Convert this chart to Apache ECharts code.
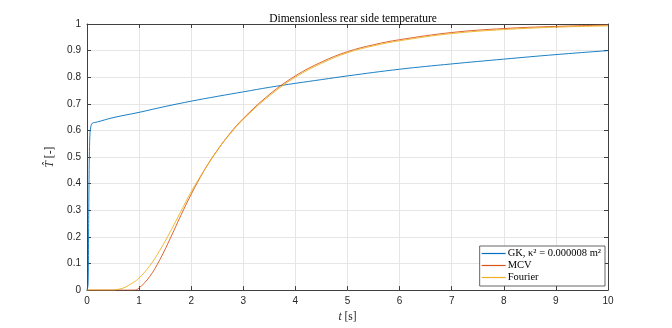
<!DOCTYPE html>
<html>
<head>
<meta charset="utf-8">
<script src="https://cdn.jsdelivr.net/npm/echarts@6/dist/echarts.min.js"></script>
<style>
  html, body { margin: 0; padding: 0; background: #fff; }
  #chart { width: 672px; height: 328px; }
</style>
</head>
<body>
<div id="chart"></div>
<script>
// values
const gkTime = [0, 0.02, 0.03, 0.035, 0.045, 0.055, 0.065, 0.08, 0.1, 0.2, 0.5, 1, 1.5, 2, 2.5, 3, 3.5, 4, 4.5, 5, 6, 7, 8, 9, 10]
const gkValues = [0, 0.02, 0.2, 0.33, 0.5, 0.58, 0.605, 0.619, 0.627, 0.632, 0.648, 0.668, 0.69, 0.71, 0.728, 0.745, 0.762, 0.777, 0.791, 0.805, 0.83, 0.85, 0.868, 0.885, 0.9]

const mcvTime = [0, 0.9, 1.0, 1.2, 1.4, 1.6, 1.8, 2.0, 2.25, 2.5, 2.75, 3, 3.5, 4, 4.5, 5, 5.5, 6, 7, 8, 9, 10]
const mcvValues = [0, 0, 0.008, 0.05, 0.115, 0.195, 0.28, 0.36, 0.45, 0.525, 0.59, 0.645, 0.735, 0.805, 0.857, 0.896, 0.922, 0.941, 0.968, 0.983, 0.991, 0.996]

const fourierTime = [0, 0.5, 0.6, 0.7, 0.8, 0.9, 1.0, 1.2, 1.4, 1.6, 1.8, 2.0, 2.25, 2.5, 2.75, 3, 3.5, 4, 4.5, 5, 5.5, 6, 7, 8, 9, 10]
const fourierValues = [0, 0, 0.003, 0.008, 0.018, 0.03, 0.045, 0.09, 0.15, 0.22, 0.295, 0.37, 0.45, 0.525, 0.588, 0.642, 0.73, 0.8, 0.852, 0.892, 0.918, 0.937, 0.964, 0.979, 0.988, 0.993]

const xTicks = [0, 10, 1]
const yTicks = [0, 1, 0.1]

const pairs = (t, v) => t.map((x, i) => [x, v[i]])

const axisColor = '#404040'
const textColor = '#262626'
const serif = 'Liberation Serif'
const sans = 'Liberation Sans'

const chart = echarts.init(document.getElementById('chart'))

const baseX = {
  type: 'value',
  min: xTicks[0],
  max: xTicks[1],
  interval: xTicks[2],
  axisLine: { show: true, onZero: false, lineStyle: { color: axisColor, width: 1 } },
  axisTick: { show: true, inside: true, length: 4, lineStyle: { color: axisColor } },
}
const baseY = {
  type: 'value',
  min: yTicks[0],
  max: yTicks[1],
  interval: yTicks[2],
  axisLine: { show: true, onZero: false, lineStyle: { color: axisColor, width: 1 } },
  axisTick: { show: true, inside: true, length: 4, lineStyle: { color: axisColor } },
}

const lineSeries = (name, t, v, color) => ({
  name,
  type: 'line',
  data: pairs(t, v),
  symbol: 'none',
  smooth: 0.4,
  lineStyle: { color, width: 0.9 },
  itemStyle: { color },
})

chart.setOption({
  animation: false,
  backgroundColor: '#fff',
  title: {
    text: 'Dimensionless rear side temperature',
    left: 348,
    top: 8,
    textAlign: 'center',
    textStyle: { fontFamily: serif, fontSize: 11.5, fontWeight: 'normal', color: '#000' },
  },
  grid: { left: 87, top: 24, width: 521, height: 268 },
  xAxis: [
    {
      ...baseX,
      position: 'bottom',
      name: '{i|t} [s]',
      nameLocation: 'middle',
      nameGap: 18,
      nameTextStyle: {
        fontFamily: serif, fontSize: 11.5, color: textColor,
        rich: { i: { fontFamily: serif, fontStyle: 'italic', fontSize: 11.5, color: textColor } },
      },
      axisLabel: { color: textColor, fontFamily: sans, fontSize: 10, margin: 6 },
      splitLine: { show: true, lineStyle: { color: '#e6e6e6', width: 1 } },
    },
    {
      ...baseX,
      position: 'top',
      axisLabel: { show: false },
      splitLine: { show: false },
    },
  ],
  yAxis: [
    {
      ...baseY,
      position: 'left',
      name: '{i|T\u0302} [-]',
      nameLocation: 'middle',
      nameGap: 11,
      nameRotate: 90,
      nameTextStyle: {
        fontFamily: serif, fontSize: 11.5, color: textColor,
        rich: { i: { fontFamily: serif, fontStyle: 'italic', fontSize: 11.5, color: textColor } },
      },
      axisLabel: { color: textColor, fontFamily: sans, fontSize: 10, margin: 6 },
      splitLine: { show: true, lineStyle: { color: '#e6e6e6', width: 1 } },
    },
    {
      ...baseY,
      position: 'right',
      axisLabel: { show: false },
      splitLine: { show: false },
    },
  ],
  legend: {
    orient: 'vertical',
    right: 67,
    bottom: 42,
    backgroundColor: '#fff',
    borderColor: axisColor,
    borderWidth: 0.8,
    borderRadius: 0,
    padding: [2, 4, 3, 2],
    itemGap: 1,
    itemWidth: 24,
    itemHeight: 1.2,
    icon: 'rect',
    textStyle: { fontFamily: serif, fontSize: 10.5, color: '#000', padding: [0, 0, 0, -3] },
    data: ['GK, \u03BA\u00B2 = 0.000008 m\u00B2', 'MCV', 'Fourier'],
  },
  series: [
    lineSeries('GK, \u03BA\u00B2 = 0.000008 m\u00B2', gkTime, gkValues, '#0072BD'),
    lineSeries('MCV', mcvTime, mcvValues, '#D95319'),
    lineSeries('Fourier', fourierTime, fourierValues, '#EDB120'),
  ],
})
</script>
</body>
</html>
